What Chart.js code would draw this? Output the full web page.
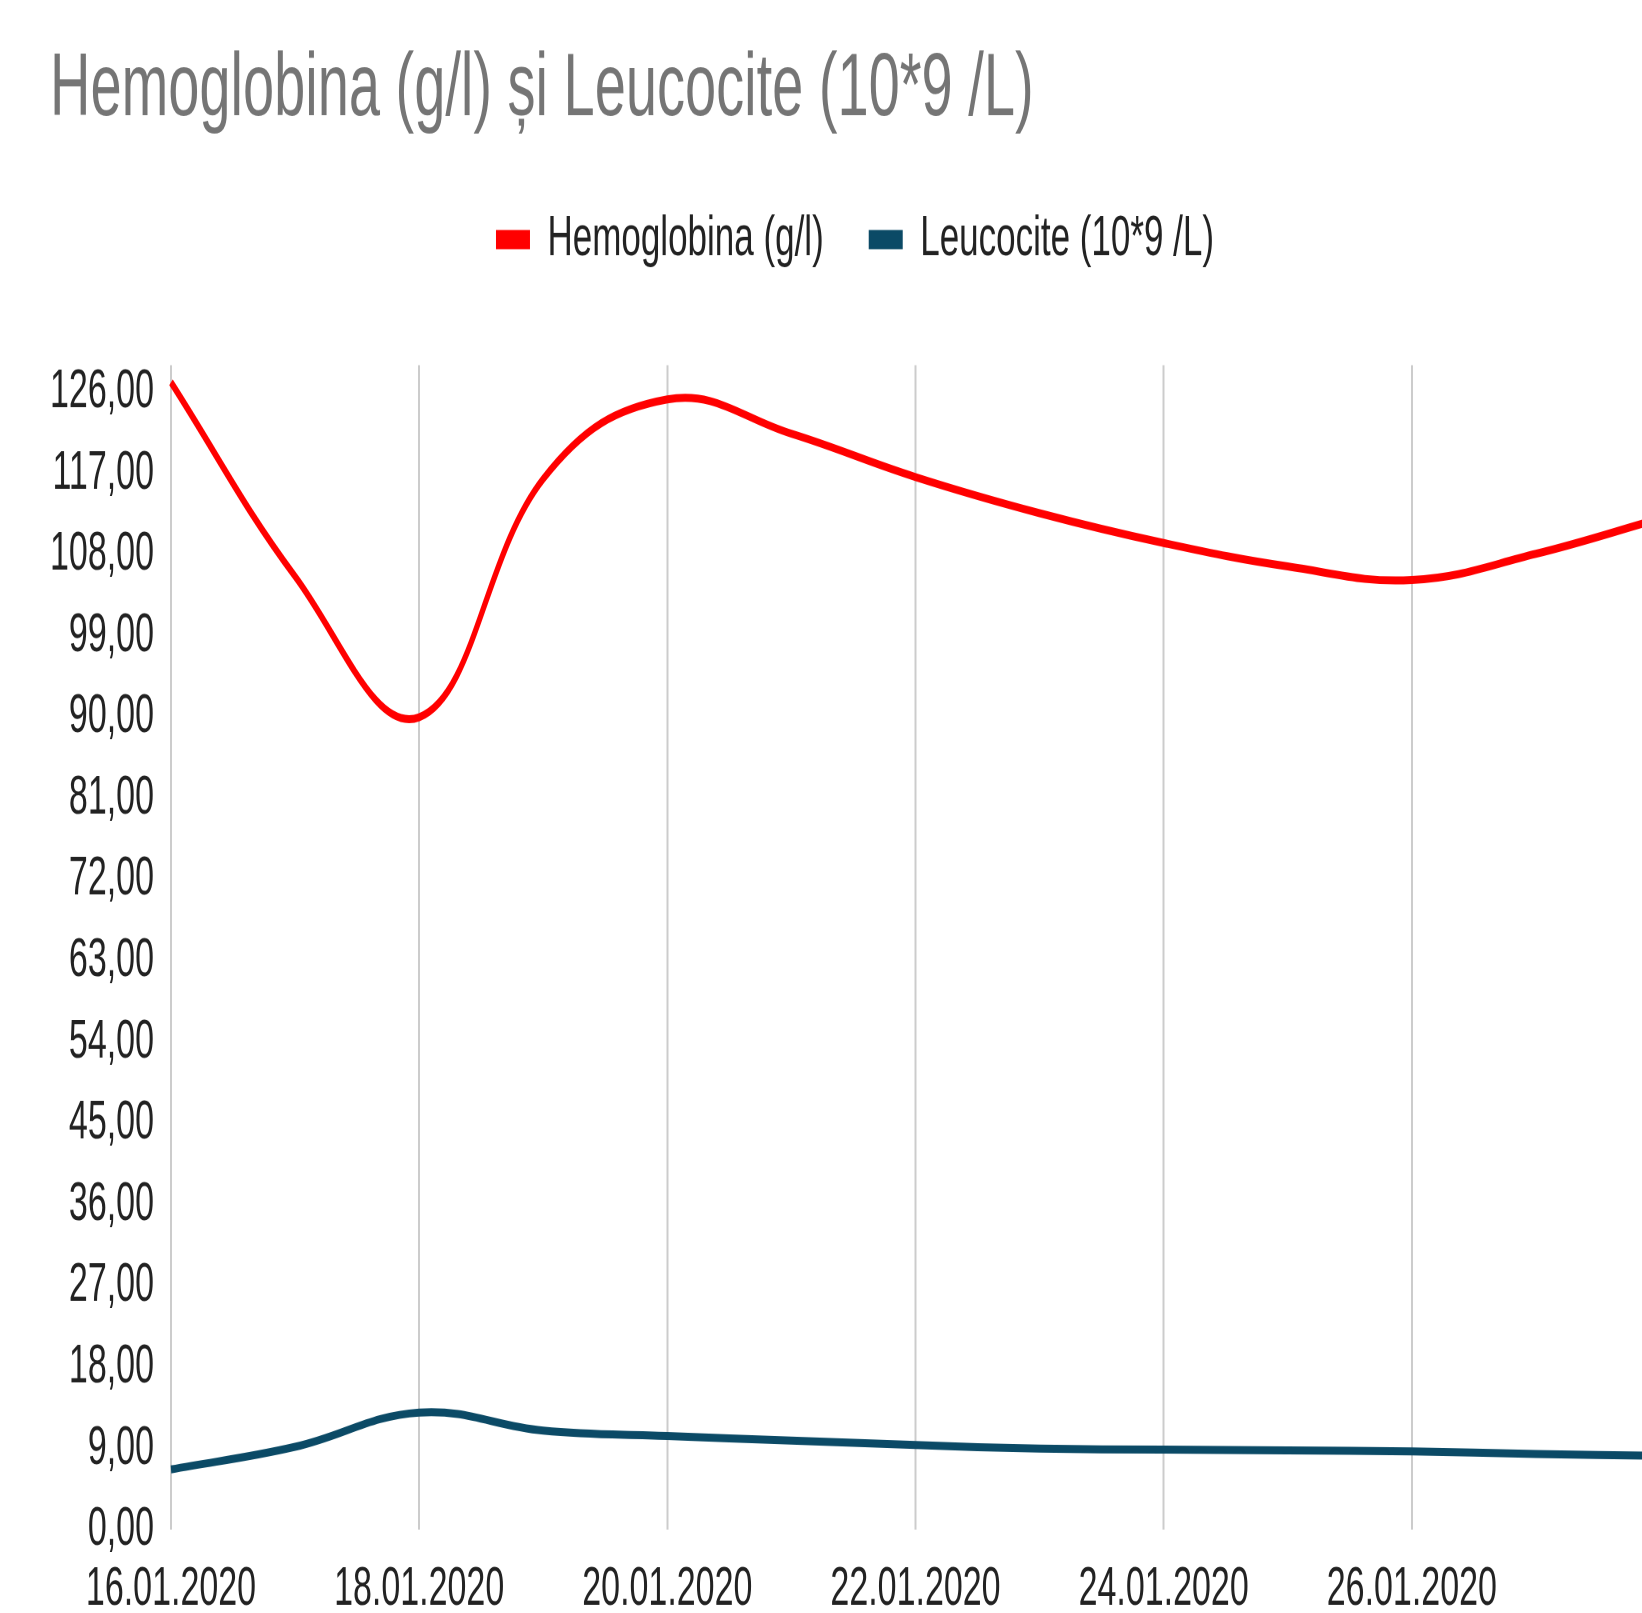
<!DOCTYPE html>
<html>
<head>
<meta charset="utf-8">
<script src="https://cdn.jsdelivr.net/npm/chart.js@4/dist/chart.umd.min.js"></script>
<style>
  html, body { margin: 0; padding: 0; background: #fff; overflow: hidden; width: 1642px; height: 1613px; }
  #wrap { width: 1710px; height: 1039px; transform: scaleY(1.6); transform-origin: 0 0; }
</style>
</head>
<body>
<div id="wrap"><canvas id="chart" width="1710" height="1039"></canvas></div>
<script>
const dates = ["16.01.2020", "17.01.2020", "18.01.2020", "19.01.2020", "20.01.2020", "21.01.2020", "22.01.2020",
               "23.01.2020", "24.01.2020", "25.01.2020", "26.01.2020", "27.01.2020", "28.01.2020"];
const hemoglobina = [127.1, 105.6, 90.0, 116.4, 125.2, 121.4, 116.6, 112.6, 109.3, 106.7, 105.2, 108.1, 112.0];
const leucocite = [6.7, 9.2, 13.0, 11.0, 10.4, 9.9, 9.4, 9.0, 8.9, 8.8, 8.7, 8.4, 8.2];
const yTicks = [0, 9, 18, 27, 36, 45, 54, 63, 72, 81, 90, 99, 108, 117, 126];
const yMax = 129;

Chart.defaults.font.family = '"Liberation Sans", Arial, sans-serif';
Chart.defaults.color = "#222";

// a bit more room between the legend and the plot
const legendGap = {
  id: "legendGap",
  beforeInit(chart) {
    const fit = chart.legend.fit;
    chart.legend.fit = function () {
      fit.call(this);
      this.height += 51;
    };
  }
};

new Chart(document.getElementById("chart"), {
  type: "line",
  data: {
    labels: dates,
    datasets: [
      {
        label: "Hemoglobina (g/l)",
        data: hemoglobina,
        borderColor: "#ff0000",
        backgroundColor: "#ff0000",
        borderWidth: 5,
        pointRadius: 0,
        tension: 0.4
      },
      {
        label: "Leucocite (10*9 /L)",
        data: leucocite,
        borderColor: "#0b4a66",
        backgroundColor: "#0b4a66",
        borderWidth: 5,
        pointRadius: 0,
        tension: 0.4
      }
    ]
  },
  options: {
    responsive: false,
    animation: false,
    devicePixelRatio: 2,
    layout: { padding: { left: 50, right: 50, top: 0, bottom: 8 } },
    plugins: {
      title: {
        display: true,
        text: "Hemoglobina (g/l) și Leucocite (10*9 /L)",
        align: "start",
        color: "#757575",
        font: { size: 56, weight: "normal" },
        padding: { top: 23, bottom: -3 }
      },
      legend: {
        labels: {
          boxWidth: 34,
          boxHeight: 12,
          padding: 45,
          color: "#222",
          font: { size: 35 },
          generateLabels: chart =>
            Chart.defaults.plugins.legend.labels.generateLabels(chart).map(l => ({ ...l, lineWidth: 0 }))
        }
      },
      tooltip: { enabled: false }
    },
    scales: {
      x: {
        border: { display: false },
        grid: {
          drawTicks: false,
          lineWidth: 2,
          color: ctx => (ctx.index % 2 === 0 ? "#cccccc" : "rgba(0,0,0,0)")
        },
        ticks: {
          autoSkip: false,
          maxRotation: 0,
          padding: 17,
          font: { size: 34 },
          color: "#222",
          callback: (v, i) => (i % 2 === 0 && i < dates.length - 1 ? dates[i] : "")
        }
      },
      y: {
        min: 0,
        max: yMax,
        border: { display: false },
        grid: { display: false, drawTicks: false },
        afterBuildTicks: axis => { axis.ticks = yTicks.map(v => ({ value: v })); },
        afterFit: axis => { axis.width -= 17; },
        ticks: {
          padding: 17,
          font: { size: 34 },
          color: "#222",
          callback: v => v.toFixed(2).replace(".", ",")
        }
      }
    }
  },
  plugins: [legendGap]
});
</script>
</body>
</html>
